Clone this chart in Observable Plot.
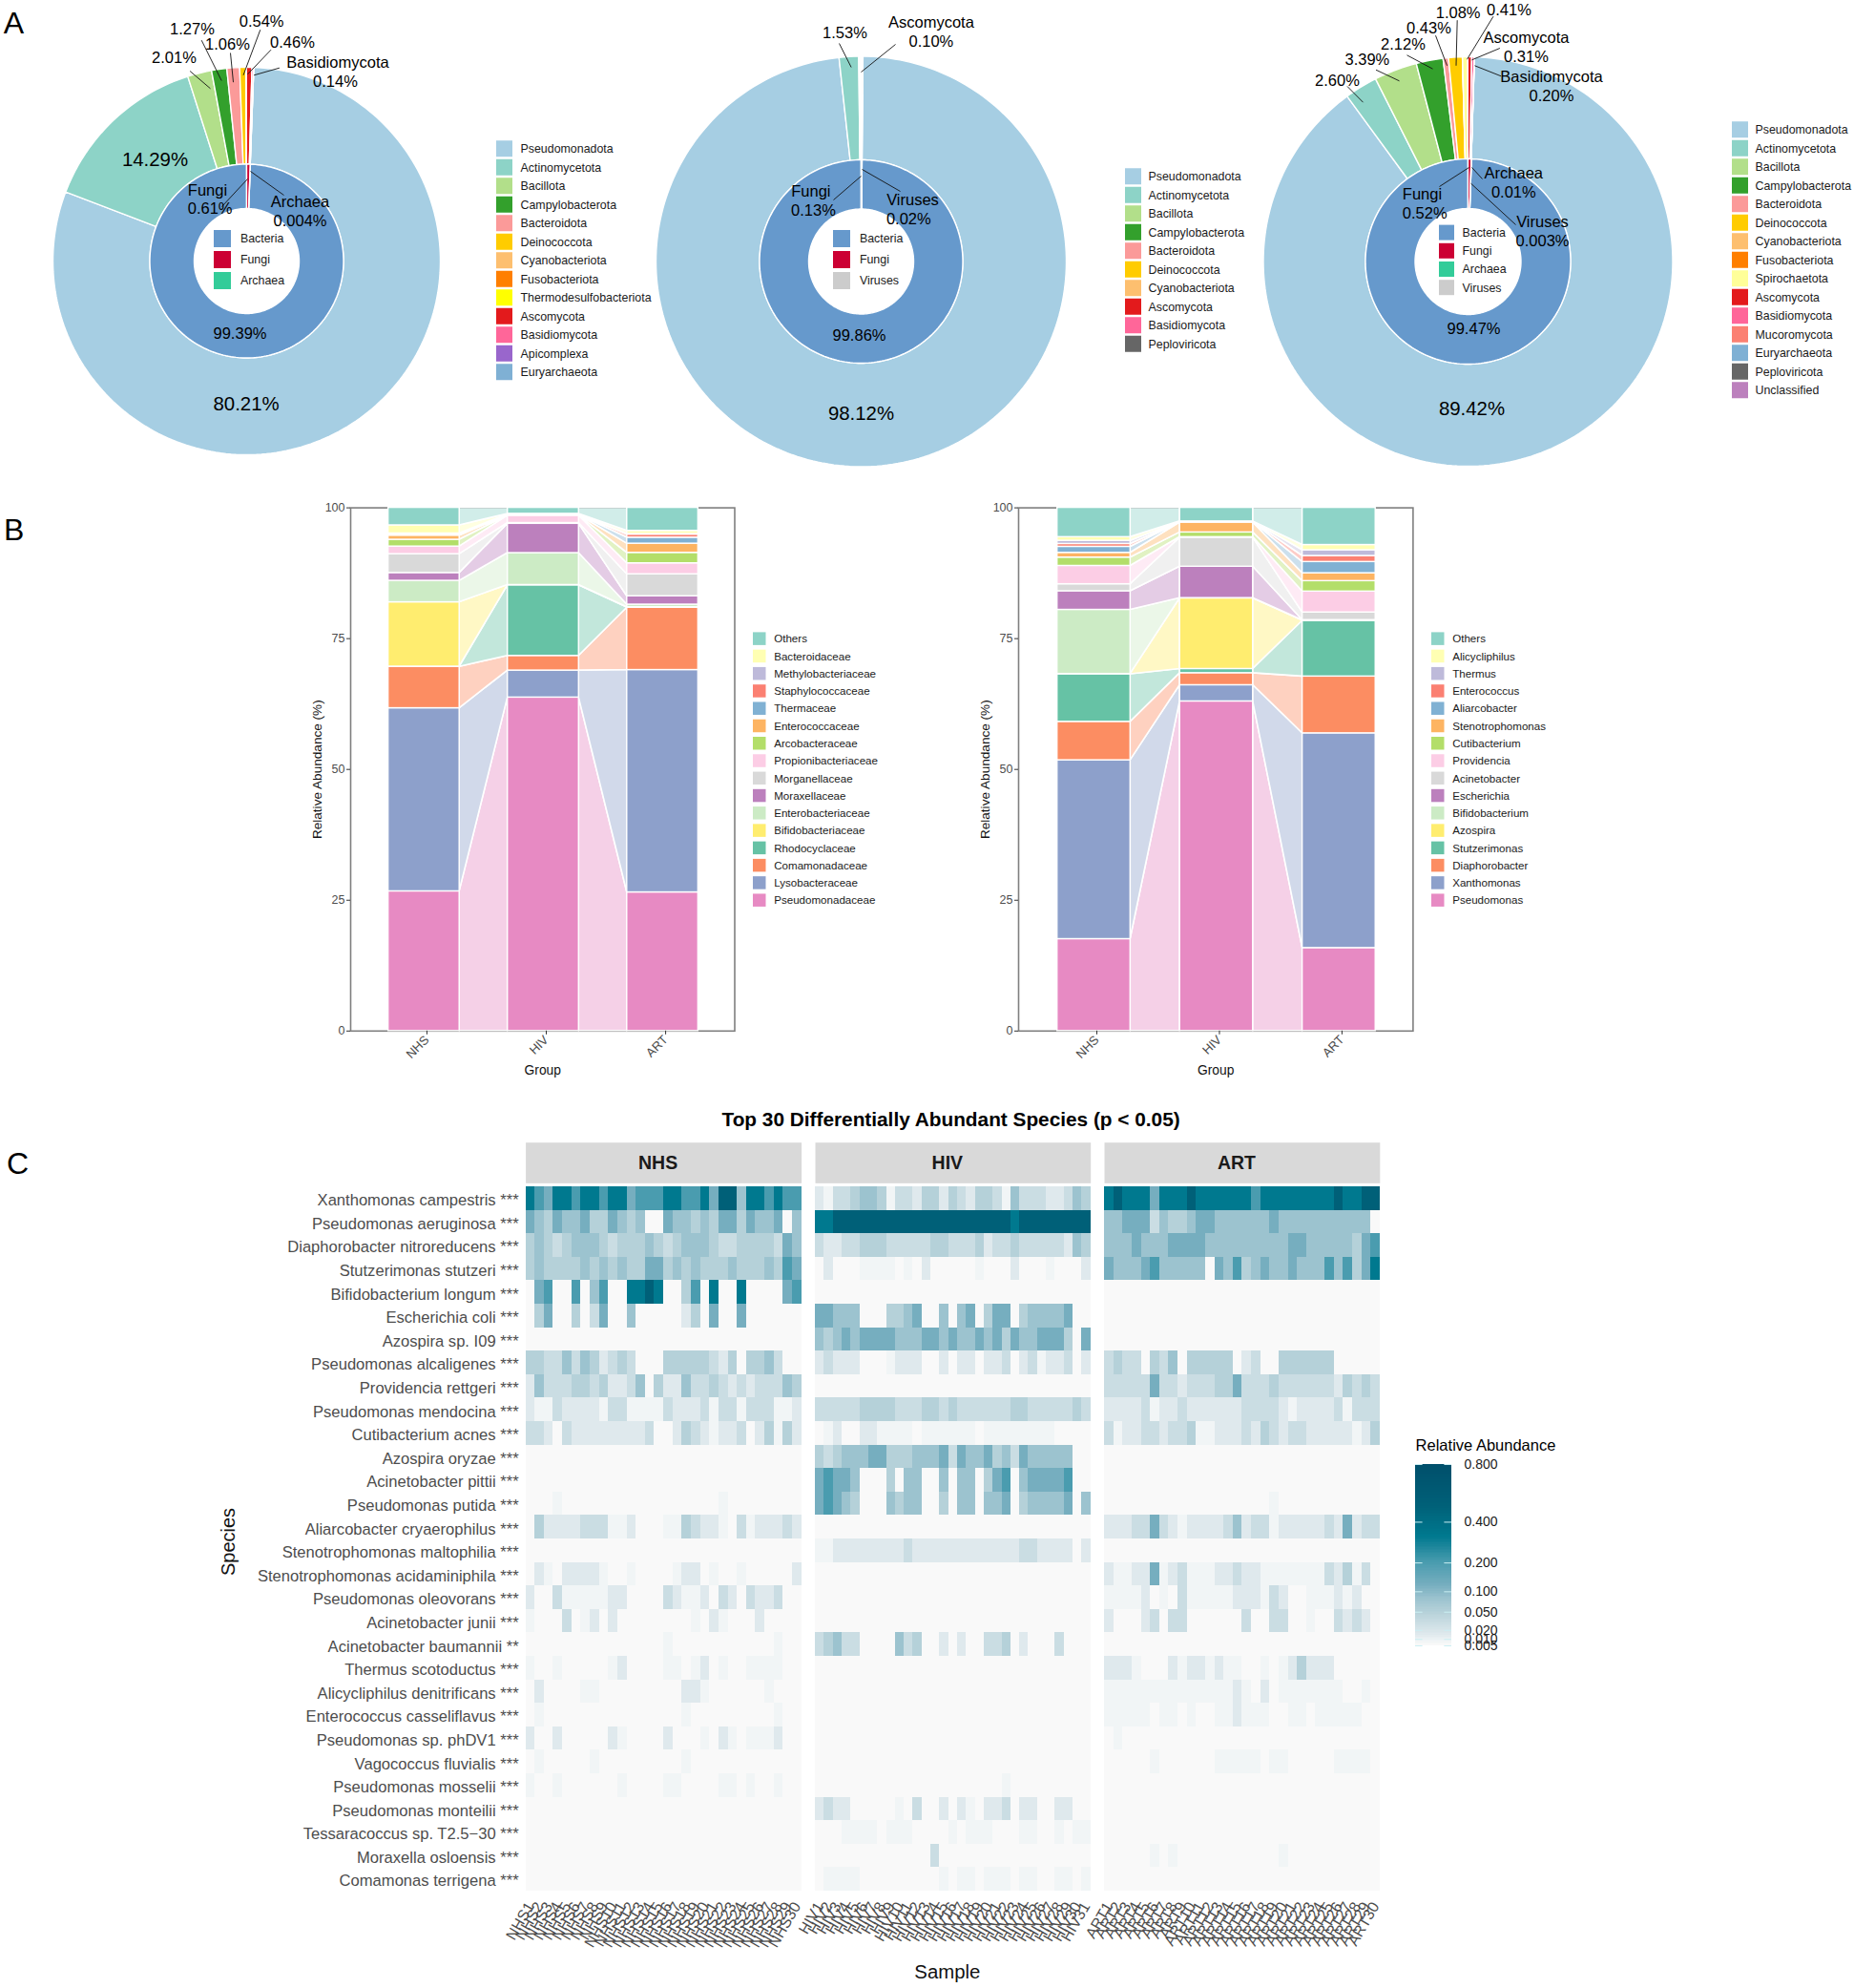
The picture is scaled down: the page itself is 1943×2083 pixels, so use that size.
<!DOCTYPE html>
<html><head><meta charset="utf-8">
<script src="https://cdn.jsdelivr.net/npm/d3@7"></script>
<script src="https://cdn.jsdelivr.net/npm/@observablehq/plot@0.6"></script>
<style>
html,body{margin:0;padding:0;background:#fff;font-family:"Liberation Sans",Arial,sans-serif}
#page{position:relative;width:1943px;height:2083px;overflow:hidden}
.box{position:absolute}
.box svg{display:block;max-width:none;overflow:visible;background:transparent}
.note{position:absolute;white-space:pre;color:#000}
</style></head><body><div id="page"></div>
<script>
const FONT = '"Liberation Sans",Arial,sans-serif';
// ---------- Panel A : values ----------
const phylaColors = {Pseudomonadota:"#A6CEE3",Actinomycetota:"#8DD3C7",Bacillota:"#B2DF8A",Campylobacterota:"#33A02C",Bacteroidota:"#FB9A99",Deinococcota:"#FFCC00",Cyanobacteriota:"#FDBF6F",Fusobacteriota:"#FF7F00",Thermodesulfobacteriota:"#FFFF00",Spirochaetota:"#FFFF99",Ascomycota:"#E31A1C",Basidiomycota:"#FF6699",Mucoromycota:"#FB8072",Apicomplexa:"#9966CC",Euryarchaeota:"#7FB0D4",Peploviricota:"#666666",Unclassified:"#BC80BD"};
const kingdomColors = {Bacteria:"#6699CC",Fungi:"#CC0033",Archaea:"#33CC99",Viruses:"#CCCCCC"};
const phylaA1 = ["Pseudomonadota","Actinomycetota","Bacillota","Campylobacterota","Bacteroidota","Deinococcota","Cyanobacteriota","Fusobacteriota","Thermodesulfobacteriota","Ascomycota","Basidiomycota","Apicomplexa","Euryarchaeota"];
const valuesA1 = [80.21,14.29,2.01,1.27,1.06,0.54,0.005,0.005,0.005,0.46,0.14,0.002,0.002];
const phylaA2 = ["Pseudomonadota","Actinomycetota","Bacillota","Campylobacterota","Bacteroidota","Deinococcota","Cyanobacteriota","Ascomycota","Basidiomycota","Peploviricota"];
const valuesA2 = [98.12,1.53,0.04,0.04,0.04,0.03,0.03,0.10,0.03,0.02];
const phylaA3 = ["Pseudomonadota","Actinomycetota","Bacillota","Campylobacterota","Bacteroidota","Deinococcota","Cyanobacteriota","Fusobacteriota","Spirochaetota","Ascomycota","Basidiomycota","Mucoromycota","Euryarchaeota","Peploviricota","Unclassified"];
const valuesA3 = [89.42,2.60,3.39,2.12,0.43,1.08,0.005,0.005,0.41,0.31,0.20,0.002,0.002,0.003,0.003];
const kingdomsA1 = ["Bacteria","Fungi","Archaea"], kingdomValuesA1 = [99.39,0.61,0.004];
const kingdomsA2 = ["Bacteria","Fungi","Viruses"], kingdomValuesA2 = [99.86,0.13,0.02];
const kingdomsA3 = ["Bacteria","Fungi","Archaea","Viruses"], kingdomValuesA3 = [99.47,0.52,0.01,0.003];
// label text and where it sits on the page
const labelsA1 = [["80.21%",257.6,423,20.4],["14.29%",162,167,20.4],["2.01%",182,60],["1.27%",201,30],["1.06%",238,46.7],["0.54%",273.6,22.7],["0.46%",306,44.7],["Basidiomycota",353.5,65.3],["0.14%",351,85.3],["Fungi",217,199],["0.61%",219.6,218.7],["Archaea",314,211],["0.004%",314,231],["99.39%",251,349]];
const leadersA1 = [[198.6,74,220,92.3],[210.7,41.7,231.7,84],[241,55,244,85.7],[272.3,30.7,254.5,78.3],[283.5,51.7,259,77.3],[292.4,70.7,265.6,78.3],[259,187,232,216],[262,179,297,204]];
const labelsA2 = [["98.12%",902,433,20.4],["1.53%",885,34.7],["Ascomycota",975.4,23.3],["0.10%",975.4,43.3],["Fungi",849.4,200],["0.13%",852,220],["Viruses",956,209.3],["0.02%",951.8,229.3],["99.86%",900,351.7]];
const leadersA2 = [[879,45,891.6,70],[938,46,902,75],[902,184,873,209],[903,177,943,200]];
const labelsA3 = [["89.42%",1542,427.7,20.4],["2.60%",1401,84.7],["3.39%",1432.4,62.3],["2.12%",1470,46.3],["0.43%",1497,29],["1.08%",1527.6,13.7],["0.41%",1581,10.3],["Ascomycota",1599,39],["0.31%",1599,59],["Basidiomycota",1625.5,80.3],["0.20%",1625.5,100.3],["Archaea",1585.8,181.3],["0.01%",1585.8,201.3],["Fungi",1490,203],["0.52%",1492.7,223],["Viruses",1616,232.3],["0.003%",1616,252.3],["99.47%",1544,344.7]];
const leadersA3 = [[1411.5,90,1428,106.7],[1441.5,72.7,1466,84.3],[1474,57.3,1501,71.7],[1504,36.7,1516,68.3],[1526.7,20.7,1525.5,68.3],[1564.5,16.7,1537,61.7],[1571.4,50,1542,62.3],[1572.7,79.3,1545,68.3],[1542,175,1553,187],[1539,175,1508,195],[1541,191.7,1588,235]];
// ---------- Panel B : values (top of stack first) ----------
const groupNames = ["NHS","HIV","ART"];
const familyNames = ["Others","Bacteroidaceae","Methylobacteriaceae","Staphylococcaceae","Thermaceae","Enterococcaceae","Arcobacteraceae","Propionibacteriaceae","Morganellaceae","Moraxellaceae","Enterobacteriaceae","Bifidobacteriaceae","Rhodocyclaceae","Comamonadaceae","Lysobacteraceae","Pseudomonadaceae"];
const familyNHS = [3.35,1.55,0.1,0.1,0.2,0.8,1.3,1.45,3.6,1.5,4.1,12.3,0.05,7.9,35.0,26.7];
const familyHIV = [1.15,0.1,0.05,0.05,0.05,0.05,0.05,1.4,0.15,5.6,6.1,0.05,13.5,2.8,5.16,63.74];
const familyART = [4.4,0.6,0.1,0.6,1.15,1.75,2.0,2.1,4.2,1.6,0.5,0.05,0.05,11.9,42.5,26.5];
const genusNames = ["Others","Alicycliphilus","Thermus","Enterococcus","Aliarcobacter","Stenotrophomonas","Cutibacterium","Providencia","Acinetobacter","Escherichia","Bifidobacterium","Azospira","Stutzerimonas","Diaphorobacter","Xanthomonas","Pseudomonas"];
const genusNHS = [5.6,0.7,0.6,0.55,1.15,0.9,1.6,3.5,1.34,3.56,12.25,0.05,9.1,7.35,34.18,17.57];
const genusHIV = [2.6,0.05,0.05,0.05,0.05,1.9,0.9,0.1,5.55,6.0,0.05,13.5,0.8,2.3,3.1,63.0];
const genusART = [7.1,1.0,1.1,1.15,2.15,1.5,2.0,4.0,1.45,0.05,0.05,0.05,10.64,10.86,41.04,15.86];
const set3Range = ["#8DD3C7","#FFFFB3","#BEBADA","#FB8072","#80B1D3","#FDB462","#B3DE69","#FCCDE5","#D9D9D9","#BC80BD","#CCEBC5","#FFED6F","#66C2A5","#FC8D62","#8DA0CB","#E78AC3"];
// ---------- Panel C : values ----------
const speciesLabels = ["Xanthomonas campestris ***","Pseudomonas aeruginosa ***","Diaphorobacter nitroreducens ***","Stutzerimonas stutzeri ***","Bifidobacterium longum ***","Escherichia coli ***","Azospira sp. I09 ***","Pseudomonas alcaligenes ***","Providencia rettgeri ***","Pseudomonas mendocina ***","Cutibacterium acnes ***","Azospira oryzae ***","Acinetobacter pittii ***","Pseudomonas putida ***","Aliarcobacter cryaerophilus ***","Stenotrophomonas maltophilia ***","Stenotrophomonas acidaminiphila ***","Pseudomonas oleovorans ***","Acinetobacter junii ***","Acinetobacter baumannii **","Thermus scotoductus ***","Alicycliphilus denitrificans ***","Enterococcus casseliflavus ***","Pseudomonas sp. phDV1 ***","Vagococcus fluvialis ***","Pseudomonas mosselii ***","Pseudomonas monteilii ***","Tessaracoccus sp. T2.5\u221230 ***","Moraxella osloensis ***","Comamonas terrigena ***"];
// one digit per sample; see abundanceOfDigit
const abundanceOfDigit = [0.005,0.008,0.015,0.03,0.05,0.08,0.12,0.2,0.32,0.5];
const readingsNHS = [
"8768878878"+"8677788778"+"6995887877",
"6546556446"+"5450065545"+"4664655605",
"4543455543"+"4445434555"+"4334444365",
"4544445454"+"5446645454"+"4454445476",
"0670070570"+"0889800470"+"8008000067",
"0460040360"+"0500000240"+"6006000000",
"",
"4433535423"+"4300044444"+"3240445300",
"2533344342"+"2350422533"+"4323233354",
"2113222213"+"3111132223"+"1331333112",
"3320322222"+"2223002432"+"1223024142",
"","",
"0001000000"+"0000000000"+"0100000000",
"0422223331"+"1200011432"+"2103122232",
"",
"0210222210"+"0100001220"+"1001000002",
"2003111112"+"2000032112"+"0320322300",
"1000301202"+"0000000010"+"2100020000",
"0000000000"+"0000010000"+"0000000100",
"1001000001"+"2000011012"+"0100111100",
"0200001100"+"0000000221"+"0000001000",
"0100000000"+"0000000100"+"0000000100",
"2002000002"+"1000020001"+"0210111200",
"0100000100"+"0000000100",
"1001000000"+"1000011000"+"0110100100",
"","","",""];
const readingsHIV = [
"2133455413"+"3244243244"+"3153332235"+"4",
"8899999999"+"9999999999"+"9989999999"+"9",
"3223344433"+"3334433342"+"3343333325"+"4",
"0200011110"+"1020000010"+"0020001000"+"2",
"",
"6655500044"+"5600505604"+"6604555560"+"0",
"5456566665"+"5566565565"+"6465566640"+"6",
"2322200012"+"2200202202"+"2302312230"+"2",
"",
"3333344443"+"3344343333"+"3344333334"+"3",
"0120022111"+"1011111101"+"1111111000"+"0",
"4345556644"+"4555636556"+"4536555550"+"0",
"6766500040"+"5500505504"+"6705666670"+"0",
"6765400054"+"5500405505"+"5604555560"+"5",
"",
"1122222222"+"3222222222"+"2223322220"+"2",
"","","",
"3453300005"+"3400202003"+"3402000300"+"0",
"","","","","",
"0000000000"+"0000000000"+"01",
"2322000001"+"0300202102"+"2302200220"+"0",
"0001111011"+"1000010111"+"0001100101"+"1",
"00000000000003",
"0111100000"+"0000101101"+"1101100110"+"1"];
const readingsART = [
"8988868889"+"8888887888"+"8888898899",
"5566635445"+"6655555565"+"5555555550",
"5556555666"+"6555555555"+"6655555467",
"6555675555"+"5065745655"+"6555757468",
"","","",
"3433043504"+"4444023004"+"4444400000",
"3333363323"+"3344633343"+"3333324343",
"2222312232"+"2222233332"+"1222231333",
"3122332334"+"1122232432"+"3322222124",
"","",
"0000000000"+"000000001",
"2223363212"+"2223523312"+"2222326233",
"",
"2112261231"+"1122322111"+"1111324130",
"1111201031"+"1111222132"+"0011121200",
"2000230330"+"0000030033"+"0010032320",
"",
"2221000212"+"2121100101"+"2422200000",
"1111111111"+"1111210201"+"1111110010",
"1111101101"+"0011211100"+"1101111100",
"01",
"0000010000"+"0011111011"+"0000011110",
"","","",
"0000010100"+"0000000001",
""];
const legendTicks = [0.005,0.01,0.02,0.05,0.1,0.2,0.4,0.8];
const colorDomain = [0.005,0.008,0.015,0.03,0.05,0.08,0.12,0.2,0.32,0.5,0.8];
const colorRange = ["#F9F9F9","#F1F5F6","#DFE9ED","#CADDE3","#B5D1D9","#9CC3CF","#76AEBF","#4A9CAF","#00798F","#006078","#004F6B"];

// ---------- helpers ----------
const page = document.getElementById("page");
function place(svg,left,top){const d=document.createElement("div");d.className="box";d.style.left=left+"px";d.style.top=top+"px";d.appendChild(svg);page.appendChild(d);}
function note(text,x,y,css){const d=document.createElement("div");d.className="note";d.textContent=text;d.style.cssText+=`left:${x}px;top:${y}px;transform:translate(-50%,-50%);`+css;page.appendChild(d);}
const base = {style:{fontFamily:FONT,background:"transparent",overflow:"visible"}};

function ringPolys(names,values,startDeg,r0,r1,cx,cy){
  const total=d3.sum(values), out=[]; let a=startDeg;
  names.forEach((name,i)=>{
    const sweep=values[i]/total*360, n=Math.max(2,Math.ceil(sweep/1.5)+1);
    const angs=d3.range(n).map(k=>(a+sweep*k/(n-1))*Math.PI/180);
    const pts=[...angs.map(t=>[t,r1]),...angs.slice().reverse().map(t=>[t,r0])];
    pts.push(pts[0]);
    pts.forEach(([t,r])=>out.push({name,x:cx+r*Math.sin(t),y:cy-r*Math.cos(t)}));
    a+=sweep;
  });
  return out;
}
function donut(o){
  const outer=ringPolys(o.phyla,o.values,o.start,o.r1,o.r2,o.cx,o.cy);
  const inner=ringPolys(o.kingdoms,o.kValues,o.kStart,o.r0,o.r1,o.cx,o.cy);
  const names=[...o.phyla,...o.kingdoms];
  const cols=names.map(n=>phylaColors[n]||kingdomColors[n]);
  place(Plot.plot({...base,width:o.w,height:500,margin:0,
    x:{domain:[o.left,o.left+o.w],range:[0,o.w],axis:null},
    y:{domain:[0,500],range:[0,500],axis:null},
    color:{domain:names,range:cols},
    marks:[
      Plot.line(outer,{x:"x",y:"y",z:"name",fill:"name",stroke:"white",strokeWidth:1.4}),
      Plot.line(inner,{x:"x",y:"y",z:"name",fill:"name",stroke:"white",strokeWidth:1.4}),
      Plot.link(o.leaders,{x1:d=>d[0],y1:d=>d[1],x2:d=>d[2],y2:d=>d[3],stroke:"#111",strokeWidth:0.9}),
      Plot.text(o.labels,{x:d=>d[1],y:d=>d[2],text:d=>d[0],fontSize:d=>d[3]||16.5,fill:"#000",lineAnchor:"middle"})
    ]}),o.left,0);
}
function legend(names,colors,left,firstY,step,sw,textGap,fontSize,w){
  const h=names.length*step, gap=1-sw/step;
  place(Plot.plot({...base,width:w,height:h,margin:0,
    x:{domain:[0,w],range:[0,w],axis:null},
    y:{type:"band",domain:names,paddingInner:gap,paddingOuter:gap/2,round:false,axis:null},
    color:{domain:names,range:colors},
    marks:[
      Plot.barX(names,{x1:()=>0,x2:()=>sw,y:d=>d,fill:d=>d}),
      Plot.text(names,{x:()=>textGap,y:d=>d,text:d=>d,textAnchor:"start",fontSize,fill:"#1a1a1a"})
    ]}),left,firstY-step/2);
}
function stacked(o){
  const rows=[], flows=[];
  const series=[o.a,o.b,o.c];
  const half=0.298;
  const bounds=series.map(vals=>{
    let c=0; const m=new Map();
    o.names.slice().reverse().forEach(n=>{const v=vals[o.names.indexOf(n)];m.set(n,[c,c+v]);c+=v;});
    return m;
  });
  o.names.slice().reverse().forEach(n=>{
    [1,2,3].forEach((g,i)=>{const [y0,y1]=bounds[i].get(n);rows.push({t:n,x1:g-half,x2:g+half,y0,y1});});
    [1,2].forEach((g,i)=>{
      const [a0,a1]=bounds[i].get(n),[b0,b1]=bounds[i+1].get(n);
      flows.push({t:n,k:n+g,x:g+half,y0:a0,y1:a1},{t:n,k:n+g,x:g+1-half,y0:b0,y1:b1});
    });
  });
  place(Plot.plot({...base,width:o.w,height:640,marginLeft:67,marginRight:o.mr,marginTop:21.6,marginBottom:70.2,
    x:{domain:[0.385,3.603],axis:null},
    y:{domain:[0,100],axis:null},
    color:{domain:o.names,range:set3Range},
    marks:[
      Plot.frame({stroke:"#7f7f7f",strokeWidth:1.6}),
      Plot.area(flows,{x1:"x",y1:"y0",y2:"y1",z:"k",fill:"t",fillOpacity:0.4,stroke:"white",strokeWidth:1.6}),
      Plot.rect(rows,{x1:"x1",x2:"x2",y1:"y0",y2:"y1",fill:"t",stroke:"white",strokeWidth:1.4}),
      Plot.axisY({ticks:[0,25,50,75,100],tickSize:4,tickPadding:2,fontSize:12.5,label:null,color:"#4d4d4d",stroke:"#333"}),
      Plot.axisX({ticks:[1,2,3],tickFormat:i=>groupNames[i-1],tickRotate:-45,tickSize:4,tickPadding:3,fontSize:13,dx:3,label:null,color:"#4d4d4d",stroke:"#333"}),
      Plot.text(["Relative Abundance (%)"],{frameAnchor:"left",textAnchor:"middle",rotate:-90,dx:-35,fontSize:13.6,fill:"#111"}),
      Plot.text(["Group"],{frameAnchor:"bottom",lineAnchor:"middle",dy:41,fontSize:13.8,fill:"#111"})
    ]}),o.left,510);
}
function heat(o){
  const samples=d3.range(1,o.n+1).map(i=>o.group+i);
  const cells=[];
  o.rows.forEach((s,r)=>{
    const str=s.padEnd(o.n,"0");
    samples.forEach((sm,c)=>cells.push({species:speciesLabels[r],sample:sm,abundance:abundanceOfDigit[+str[c]]}));
  });
  const marks=[
    Plot.frame({fill:"#D9D9D9",insetTop:-46.3,insetBottom:741.7}),
    Plot.cell(cells,{x:"sample",y:"species",fill:"abundance",inset:0,shapeRendering:"crispEdges"}),
    Plot.text([o.group],{frameAnchor:"top",lineAnchor:"middle",dy:-25,dx:-6,fontSize:19.5,fontWeight:"bold",fill:"#1a1a1a"}),
    Plot.axisX({anchor:"bottom",tickRotate:-60,tickSize:0,tickPadding:13,fontSize:16,label:null,color:"#4d4d4d"})
  ];
  if(o.axis){marks.push(
    Plot.axisY({tickSize:0,tickPadding:7.5,fontSize:16.6,dy:2,label:null,color:"#4d4d4d"}),
    Plot.text(["Species"],{frameAnchor:"left",textAnchor:"middle",rotate:-90,dx:-312,dy:3,fontSize:20,fill:"#111"}));}
  if(o.sample){marks.push(Plot.text(["Sample"],{frameAnchor:"bottom",lineAnchor:"middle",dy:85,dx:-6,fontSize:20.4,fill:"#111"}));}
  place(Plot.plot({...base,width:o.w,height:893,marginLeft:o.ml,marginRight:0,marginTop:53,marginBottom:102,
    x:{type:"band",domain:samples,padding:0,round:false,axis:null},
    y:{type:"band",domain:speciesLabels,padding:0,round:false,axis:null},
    color:{type:"sqrt",domain:colorDomain,range:colorRange},
    marks}),o.left,1190);
}

// ---------- Panel A ----------
donut({left:0,w:650,cx:258,cy:273,r0:55,r1:101.5,r2:203,start:2.1,kStart:2.2,phyla:phylaA1,values:valuesA1,kingdoms:kingdomsA1,kValues:kingdomValuesA1,labels:labelsA1,leaders:leadersA1});
donut({left:650,w:650,cx:902,cy:273.5,r0:55,r1:106.5,r2:215,start:0.5,kStart:0.5,phyla:phylaA2,values:valuesA2,kingdoms:kingdomsA2,kValues:kingdomValuesA2,labels:labelsA2,leaders:leadersA2});
donut({left:1300,w:643,cx:1538,cy:273.5,r0:55.5,r1:107.5,r2:214.5,start:1.8,kStart:1.9,phyla:phylaA3,values:valuesA3,kingdoms:kingdomsA3,kValues:kingdomValuesA3,labels:labelsA3,leaders:leadersA3});
legend(phylaA1,phylaA1.map(n=>phylaColors[n]),520,155.7,19.5,17,25,12.4,190);
legend(phylaA2,phylaA2.map(n=>phylaColors[n]),1179,185,19.5,17,24,12.4,150);
legend(phylaA3,phylaA3.map(n=>phylaColors[n]),1815,136,19.5,17,24,12.4,128);
legend(kingdomsA1,kingdomsA1.map(n=>kingdomColors[n]),223.6,250,22,18,27.4,12.4,80);
legend(kingdomsA2,kingdomsA2.map(n=>kingdomColors[n]),872.6,250,22,18,27.4,12.4,80);
legend(kingdomsA3,kingdomsA3.map(n=>kingdomColors[n]),1507.5,244,19.2,16,24,12.4,80);

// ---------- Panel B ----------
stacked({left:300,w:490,mr:20.5,names:familyNames,a:familyNHS,b:familyHIV,c:familyART});
stacked({left:1000,w:500,mr:19.6,names:genusNames,a:genusNHS,b:genusHIV,c:genusART});
legend(familyNames,set3Range,789,669,18.27,13.5,21.7,11.6,170);
legend(genusNames,set3Range,1500,669,18.27,13.5,21.7,11.6,170);

// ---------- Panel C ----------
note("Top 30 Differentially Abundant Species (p < 0.05)",996.6,1173,"font-weight:bold;font-size:20.8px;");
heat({group:"NHS",n:30,rows:readingsNHS,left:220,w:619.6,ml:330.6,axis:true});
heat({group:"HIV",n:31,rows:readingsHIV,left:853.8,w:288.7,ml:0,sample:true});
heat({group:"ART",n:30,rows:readingsART,left:1157,w:288.8,ml:0});
// colour bar
const barSteps = d3.range(0,120).map(i=>{const a=Math.sqrt(0.005),b=Math.sqrt(0.8);const s0=a+(b-a)*i/120,s1=a+(b-a)*(i+1)/120;return {v0:s0*s0,v1:s1*s1,v:((s0+s1)/2)**2};});
place(Plot.plot({...base,width:120,height:210,marginLeft:0,marginRight:82,marginTop:10,marginBottom:10,
  x:{domain:[0,1],axis:null},
  y:{type:"sqrt",domain:[0.005,0.8],axis:null},
  color:{type:"sqrt",domain:colorDomain,range:colorRange},
  marks:[
    Plot.rect(barSteps,{x1:()=>0,x2:()=>1,y1:"v0",y2:"v1",fill:"v",shapeRendering:"crispEdges"}),
    Plot.ruleY(legendTicks,{x1:()=>0,x2:()=>0.2,stroke:"#CBEFF3",strokeWidth:1}),
    Plot.ruleY(legendTicks,{x1:()=>0.8,x2:()=>1,stroke:"#CBEFF3",strokeWidth:1}),
    Plot.axisY({anchor:"right",ticks:legendTicks,tickFormat:".3f",tickSize:0,tickPadding:13,fontSize:14,label:null,color:"#1a1a1a"})
  ]}),1483,1524);
note("Relative Abundance",1557,1513.5,"font-size:16.5px;");
// panel letters
note("A",14.5,24,"font-size:32px;");
note("B",14.6,555,"font-size:32px;");
note("C",18.6,1219,"font-size:32px;");
</script></body></html>
